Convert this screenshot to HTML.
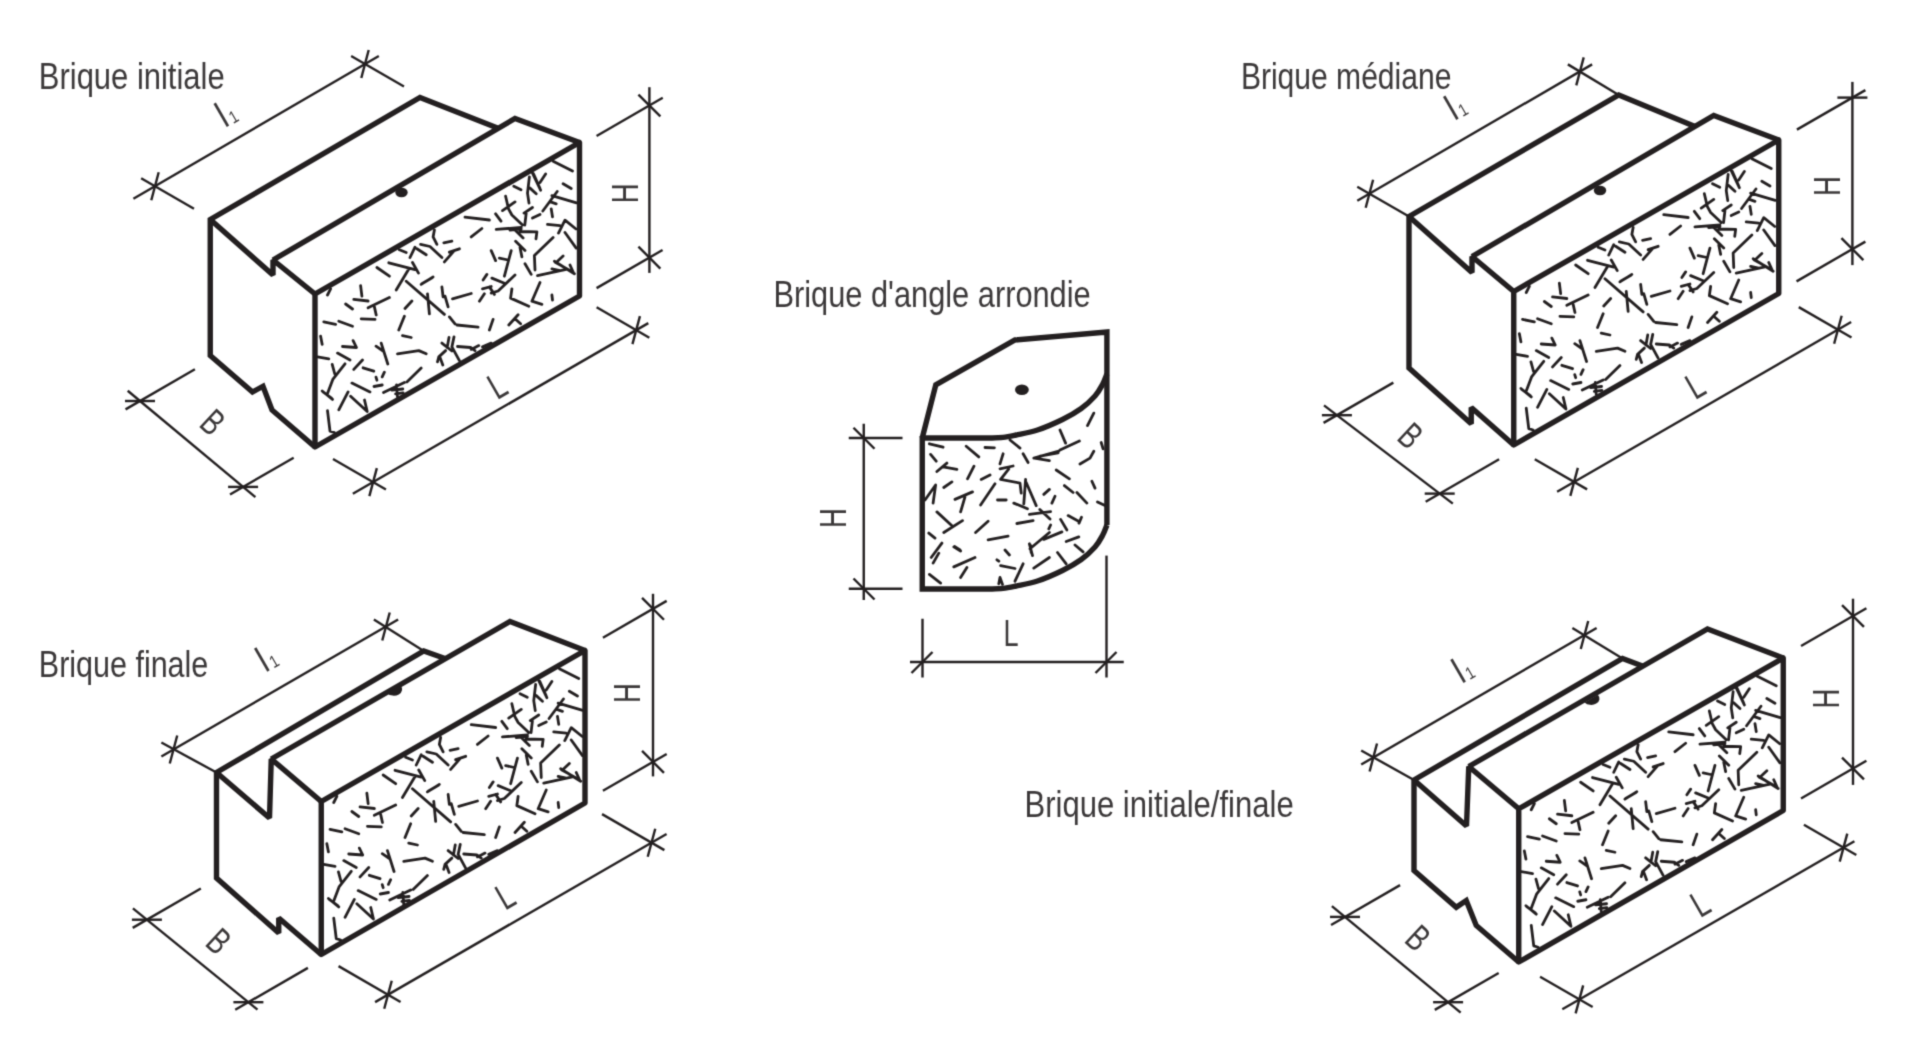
<!DOCTYPE html>
<html lang="fr"><head><meta charset="utf-8"><title>Briques</title>
<style>html,body{margin:0;padding:0;background:#fff;overflow:hidden}svg{display:block}text{font-family:"Liberation Sans",sans-serif}</style>
</head><body>
<svg width="1920" height="1043" viewBox="0 0 1920 1043">
<defs><filter id="soft" x="0" y="0" width="1920" height="1043" filterUnits="userSpaceOnUse" color-interpolation-filters="sRGB"><feConvolveMatrix order="3" kernelMatrix="1 4 1 4 16 4 1 4 1" divisor="36" edgeMode="duplicate" preserveAlpha="true"/></filter></defs><g filter="url(#soft)"><rect width="1920" height="1043" fill="#fff"/>
<defs><path id="spk" d="M150.0 -76.8L174.4 -74.0M156.2 -57.1L166.9 -65.5M119.4 -64.0L118.1 -57.1L121.9 -49.6M128.8 -51.2L136.9 -52.8M105.6 -49.6L115.0 -47.5L126.9 -36.5M129.4 -32.1L138.8 -42.8M134.4 -41.8L144.4 -45.2M84.4 -44.2L91.2 -41.5M95.0 -36.5L100.0 -46.8M101.9 -45.2L111.2 -39.2M73.8 -31.2L100.0 -24.4M97.5 -31.5L103.5 -20.9M61.9 -26.5L74.4 -17.8M81.2 -4.0L93.8 -25.0M106.2 -9.6L118.1 -17.1M106.9 -10.2L117.5 -16.5M91.2 -12.8L129.4 20.4M112.5 -0.2L114.4 19.8M126.9 -7.1L128.1 2.9M130.0 2.2L133.1 12.9M137.5 4.8L156.2 -0.5M45.6 -8.4L46.9 2.2M38.8 5.4L53.1 7.0M53.1 13.8L74.4 3.5M59.4 12.9L61.2 21.0M30.6 10.0L37.5 15.0M90.0 14.5L96.9 7.0M8.8 27.9L20.6 30.4M23.8 27.2L37.5 32.2M46.2 24.8L60.0 25.4M83.8 36.0L89.4 22.2M87.5 41.6L96.2 43.5M134.4 22.9L140.0 29.8M141.9 31.0L163.1 33.2M174.4 36.0L178.1 25.4M164.4 7.2L169.4 -0.2M168.1 -14.0L171.9 -19.6M176.2 -43.4L180.6 -33.4M189.4 -17.8L196.2 -43.4M184.4 -35.9L193.1 -34.0M210.0 -30.2L216.2 -19.6M220.0 -24.0L219.4 -38.4L238.1 -56.5M176.9 -15.9L190.0 -10.5M200.0 -19.0L183.1 -3.0L176.2 -0.9M167.5 -5.2L176.2 -7.5M174.4 -7.1L179.4 0.4M196.9 -5.2L195.6 4.1L213.8 12.2M225.0 -11.5L216.9 7.2L226.9 10.4M193.8 31.0L203.1 20.8M200.0 24.8L205.6 29.8M12.5 1.0L15.6 -5.2M5.6 42.2L7.2 50.4M27.5 52.5L41.5 53.5L38.1 46.6M2.5 62.9L13.8 64.8M22.5 59.1L35.0 66.0M66.2 49.1L72.8 70.0M61.0 52.2L68.1 57.0M82.5 59.8L103.8 56.6L111.2 59.8M142.5 52.5L155.6 53.5L160.0 56.6M134.0 43.5L132.2 53.5M139.0 42.9L136.9 52.9M126.9 49.1L136.9 57.0M136.9 52.9L144.4 66.6M130.6 56.6L123.8 62.9L122.5 67.9M125.0 63.5L127.8 71.0M30.0 69.8L17.8 85.4L12.5 99.5M17.2 70.4L19.8 80.0M7.2 97.0L17.5 105.4M8.0 97.9L16.5 104.1M38.8 75.4L47.5 66.0M48.1 73.8L58.8 77.2M61.0 83.2L61.9 86.2M67.2 82.9L69.4 78.2M59.0 92.5L67.2 91.0M36.9 89.1L55.0 97.9M68.5 98.5L89.4 88.5M76.9 96.2L87.8 95.0M80.6 99.8L88.1 98.8M81.5 91.0L82.5 102.9M91.9 87.9L106.2 74.1M23.8 115.8L33.1 97.9M35.6 102.2L52.2 117.5L49.5 106.0M12.5 116.6L15.0 137.2L19.4 138.5M156.2 55.4L163.8 51.6M167.5 52.9L176.2 49.1M238.1 -132.8L257.5 -123.0M248.1 -110.2L256.2 -105.5M214.4 -117.1L212.5 -100.9L214.0 -90.9M217.5 -120.9L225.6 -103.8M218.5 -120.2L224.8 -105.9M230.6 -120.0L225.0 -111.5M215.0 -105.9L221.2 -100.2M198.8 -107.8L206.0 -104.2M190.6 -97.8L193.5 -85.2L196.9 -79.0L207.5 -69.0M187.5 -83.4L200.0 -92.1M242.2 -102.5L227.8 -83.0M236.9 -98.4L261.5 -91.2M235.6 -92.1L241.2 -90.2M209.0 -80.9L217.5 -86.5M211.2 -80.9L209.8 -69.0M217.5 -75.9L225.0 -79.6M236.2 -85.2L237.5 -77.1M180.6 -80.2L186.0 -72.8M181.2 -64.6L206.2 -66.5M195.0 -63.8L206.2 -65.0M205.0 -62.5L221.9 -62.1L221.0 -55.2M200.0 -64.0L208.1 -55.9M200.6 -52.8L210.0 -43.4M205.0 -46.5L206.9 -37.1M232.5 -69.6L245.0 -68.4M243.5 -60.9L250.0 -73.8L261.0 -65.0M250.0 -61.5L261.2 -45.9M222.5 -18.4L251.2 -24.6M239.4 -32.8L259.4 -20.2M240.2 -31.8L257.5 -22.1M242.5 -32.8L248.1 -38.0M255.0 -29.0L258.5 -21.2M236.9 -25.2L245.0 -23.4M236.9 1.0L237.5 6.0" fill="none" stroke="#231f20" stroke-width="2.80" stroke-linecap="round" stroke-linejoin="round"/></defs>
<use href="#spk" x="315.00" y="294.00"/>
<polyline points="273.00,260.00 515.00,118.50 579.50,142.50" fill="none" stroke="#231f20" stroke-width="5.40" stroke-linejoin="miter" stroke-miterlimit="2.2"/>
<polygon points="315.00,294.00 579.50,142.50 579.50,296.00 315.00,447.00" fill="none" stroke="#231f20" stroke-width="5.40" stroke-linejoin="round" stroke-miterlimit="2.2"/>
<polyline points="210.25,219.50 273.00,275.00 273.00,260.00 315.00,294.00" fill="none" stroke="#231f20" stroke-width="5.40" stroke-linejoin="miter" stroke-miterlimit="2.2"/>
<polyline points="497.50,128.00 420.00,97.50 210.25,219.50 210.25,355.50 252.50,392.00 263.00,386.25 272.00,410.00 315.00,447.00" fill="none" stroke="#231f20" stroke-width="5.40" stroke-linejoin="miter" stroke-miterlimit="2.2"/>
<ellipse cx="401.50" cy="192.50" rx="6.20" ry="4.80" fill="#231f20"/>
<line x1="133.39" y1="198.83" x2="378.83" y2="55.95" stroke="#231f20" stroke-width="2.40"/>
<line x1="141.14" y1="178.25" x2="193.97" y2="208.75" stroke="#231f20" stroke-width="2.40"/>
<line x1="151.30" y1="200.27" x2="158.70" y2="172.23" stroke="#231f20" stroke-width="2.40"/>
<line x1="351.14" y1="56.00" x2="403.97" y2="86.50" stroke="#231f20" stroke-width="2.40"/>
<line x1="361.30" y1="78.02" x2="368.70" y2="49.98" stroke="#231f20" stroke-width="2.40"/>
<line x1="649.40" y1="272.90" x2="649.40" y2="87.20" stroke="#231f20" stroke-width="2.40"/>
<line x1="596.57" y1="288.10" x2="662.56" y2="250.00" stroke="#231f20" stroke-width="2.40"/>
<line x1="660.36" y1="268.56" x2="638.44" y2="246.64" stroke="#231f20" stroke-width="2.40"/>
<line x1="596.57" y1="136.00" x2="662.74" y2="97.80" stroke="#231f20" stroke-width="2.40"/>
<line x1="660.36" y1="116.46" x2="638.44" y2="94.54" stroke="#231f20" stroke-width="2.40"/>
<line x1="127.71" y1="390.76" x2="255.39" y2="497.14" stroke="#231f20" stroke-width="2.40"/>
<line x1="125.54" y1="409.35" x2="194.91" y2="369.30" stroke="#231f20" stroke-width="2.40"/>
<line x1="125.00" y1="401.00" x2="155.00" y2="401.00" stroke="#231f20" stroke-width="2.40"/>
<line x1="230.02" y1="494.45" x2="293.68" y2="457.70" stroke="#231f20" stroke-width="2.40"/>
<line x1="228.10" y1="486.90" x2="258.10" y2="486.90" stroke="#231f20" stroke-width="2.40"/>
<line x1="352.84" y1="493.81" x2="648.32" y2="323.10" stroke="#231f20" stroke-width="2.40"/>
<line x1="333.00" y1="458.95" x2="385.92" y2="489.50" stroke="#231f20" stroke-width="2.40"/>
<line x1="369.35" y1="496.11" x2="376.85" y2="468.09" stroke="#231f20" stroke-width="2.40"/>
<line x1="596.62" y1="307.25" x2="649.36" y2="337.70" stroke="#231f20" stroke-width="2.40"/>
<line x1="632.45" y1="344.11" x2="639.95" y2="316.09" stroke="#231f20" stroke-width="2.40"/>
<use href="#spk" x="1513.75" y="291.50"/>
<polyline points="1472.00,256.50 1713.75,115.50 1778.75,140.00" fill="none" stroke="#231f20" stroke-width="5.40" stroke-linejoin="miter" stroke-miterlimit="2.2"/>
<polygon points="1513.75,291.50 1778.75,140.00 1778.75,293.50 1513.75,445.00" fill="none" stroke="#231f20" stroke-width="5.40" stroke-linejoin="round" stroke-miterlimit="2.2"/>
<polyline points="1409.00,216.50 1472.00,272.50 1472.00,256.50 1513.75,291.50" fill="none" stroke="#231f20" stroke-width="5.40" stroke-linejoin="miter" stroke-miterlimit="2.2"/>
<polyline points="1695.00,126.50 1618.75,95.00 1409.00,216.50 1409.00,368.00 1471.25,423.75 1471.25,407.50 1513.75,445.00" fill="none" stroke="#231f20" stroke-width="5.40" stroke-linejoin="miter" stroke-miterlimit="2.2"/>
<ellipse cx="1600.00" cy="190.50" rx="6.20" ry="4.80" fill="#231f20"/>
<line x1="1357.29" y1="200.78" x2="1592.11" y2="64.37" stroke="#231f20" stroke-width="2.40"/>
<line x1="1357.28" y1="186.75" x2="1409.00" y2="216.50" stroke="#231f20" stroke-width="2.40"/>
<line x1="1567.88" y1="64.40" x2="1618.75" y2="95.00" stroke="#231f20" stroke-width="2.40"/>
<line x1="1365.68" y1="207.77" x2="1373.12" y2="179.73" stroke="#231f20" stroke-width="2.40"/>
<line x1="1576.28" y1="85.42" x2="1583.72" y2="57.38" stroke="#231f20" stroke-width="2.40"/>
<line x1="1852.40" y1="265.10" x2="1852.40" y2="81.90" stroke="#231f20" stroke-width="2.40"/>
<line x1="1796.54" y1="281.35" x2="1865.39" y2="241.60" stroke="#231f20" stroke-width="2.40"/>
<line x1="1863.36" y1="260.06" x2="1841.44" y2="238.14" stroke="#231f20" stroke-width="2.40"/>
<line x1="1796.89" y1="129.65" x2="1865.39" y2="90.10" stroke="#231f20" stroke-width="2.40"/>
<line x1="1837.40" y1="97.60" x2="1867.40" y2="97.60" stroke="#231f20" stroke-width="2.40"/>
<line x1="1324.02" y1="405.38" x2="1452.82" y2="503.61" stroke="#231f20" stroke-width="2.40"/>
<line x1="1323.56" y1="422.90" x2="1393.36" y2="382.60" stroke="#231f20" stroke-width="2.40"/>
<line x1="1321.90" y1="415.20" x2="1351.90" y2="415.20" stroke="#231f20" stroke-width="2.40"/>
<line x1="1425.67" y1="501.70" x2="1499.11" y2="459.30" stroke="#231f20" stroke-width="2.40"/>
<line x1="1424.70" y1="493.60" x2="1454.70" y2="493.60" stroke="#231f20" stroke-width="2.40"/>
<line x1="1557.12" y1="491.69" x2="1851.15" y2="322.05" stroke="#231f20" stroke-width="2.40"/>
<line x1="1534.78" y1="459.20" x2="1587.09" y2="489.40" stroke="#231f20" stroke-width="2.40"/>
<line x1="1570.34" y1="495.90" x2="1577.86" y2="467.90" stroke="#231f20" stroke-width="2.40"/>
<line x1="1798.76" y1="307.10" x2="1851.50" y2="337.55" stroke="#231f20" stroke-width="2.40"/>
<line x1="1834.14" y1="343.70" x2="1841.66" y2="315.70" stroke="#231f20" stroke-width="2.40"/>
<use href="#spk" x="321.25" y="801.50"/>
<polyline points="271.25,759.00 510.00,621.50 585.00,650.50" fill="none" stroke="#231f20" stroke-width="5.40" stroke-linejoin="miter" stroke-miterlimit="2.2"/>
<polygon points="321.25,801.50 585.00,650.50 585.00,803.00 321.25,954.50" fill="none" stroke="#231f20" stroke-width="5.40" stroke-linejoin="round" stroke-miterlimit="2.2"/>
<polyline points="216.50,772.50 269.50,818.00 271.25,759.00 321.25,801.50" fill="none" stroke="#231f20" stroke-width="5.40" stroke-linejoin="miter" stroke-miterlimit="2.2"/>
<polyline points="445.00,658.50 423.75,651.00 216.50,772.50 216.50,878.00 278.75,933.00 278.75,918.00 321.25,954.50" fill="none" stroke="#231f20" stroke-width="5.40" stroke-linejoin="miter" stroke-miterlimit="2.2"/>
<path d="M387.2 693.2 a6.6 5 0 0 0 13.2 -7.6 z" fill="#231f20"/>
<line x1="161.38" y1="756.51" x2="398.12" y2="619.49" stroke="#231f20" stroke-width="2.40"/>
<line x1="161.38" y1="742.50" x2="216.50" y2="772.50" stroke="#231f20" stroke-width="2.40"/>
<line x1="373.88" y1="619.50" x2="423.75" y2="651.00" stroke="#231f20" stroke-width="2.40"/>
<line x1="169.76" y1="763.51" x2="177.24" y2="735.49" stroke="#231f20" stroke-width="2.40"/>
<line x1="382.26" y1="640.51" x2="389.74" y2="612.49" stroke="#231f20" stroke-width="2.40"/>
<line x1="653.00" y1="776.40" x2="653.00" y2="593.80" stroke="#231f20" stroke-width="2.40"/>
<line x1="602.94" y1="790.80" x2="666.68" y2="754.00" stroke="#231f20" stroke-width="2.40"/>
<line x1="663.96" y1="772.86" x2="642.04" y2="750.94" stroke="#231f20" stroke-width="2.40"/>
<line x1="602.94" y1="637.70" x2="666.68" y2="600.90" stroke="#231f20" stroke-width="2.40"/>
<line x1="663.96" y1="619.76" x2="642.04" y2="597.84" stroke="#231f20" stroke-width="2.40"/>
<line x1="132.93" y1="908.35" x2="257.48" y2="1009.58" stroke="#231f20" stroke-width="2.40"/>
<line x1="132.70" y1="927.90" x2="200.85" y2="888.55" stroke="#231f20" stroke-width="2.40"/>
<line x1="131.90" y1="919.70" x2="161.90" y2="919.70" stroke="#231f20" stroke-width="2.40"/>
<line x1="235.24" y1="1009.80" x2="307.90" y2="967.85" stroke="#231f20" stroke-width="2.40"/>
<line x1="233.40" y1="1002.20" x2="263.40" y2="1002.20" stroke="#231f20" stroke-width="2.40"/>
<line x1="375.09" y1="1002.15" x2="666.57" y2="834.01" stroke="#231f20" stroke-width="2.40"/>
<line x1="338.55" y1="966.15" x2="400.56" y2="1001.95" stroke="#231f20" stroke-width="2.40"/>
<line x1="384.24" y1="1008.70" x2="391.76" y2="980.70" stroke="#231f20" stroke-width="2.40"/>
<line x1="602.05" y1="814.15" x2="664.40" y2="850.15" stroke="#231f20" stroke-width="2.40"/>
<line x1="647.74" y1="856.70" x2="655.26" y2="828.70" stroke="#231f20" stroke-width="2.40"/>
<use href="#spk" x="1518.75" y="808.75"/>
<polyline points="1468.75,766.50 1707.50,629.00 1783.25,658.00" fill="none" stroke="#231f20" stroke-width="5.40" stroke-linejoin="miter" stroke-miterlimit="2.2"/>
<polygon points="1518.75,808.75 1783.25,658.00 1783.25,810.50 1518.75,962.00" fill="none" stroke="#231f20" stroke-width="5.40" stroke-linejoin="round" stroke-miterlimit="2.2"/>
<polyline points="1414.00,780.00 1466.50,826.00 1468.75,766.50 1518.75,808.75" fill="none" stroke="#231f20" stroke-width="5.40" stroke-linejoin="miter" stroke-miterlimit="2.2"/>
<polyline points="1643.75,666.50 1622.50,658.50 1414.00,780.00 1414.00,870.50 1456.25,907.25 1466.25,900.50 1476.25,925.50 1518.75,962.00" fill="none" stroke="#231f20" stroke-width="5.40" stroke-linejoin="miter" stroke-miterlimit="2.2"/>
<path d="M1584.6 702.4 a6.6 5 0 0 0 13.2 -7.6 z" fill="#231f20"/>
<line x1="1361.19" y1="764.52" x2="1596.61" y2="627.98" stroke="#231f20" stroke-width="2.40"/>
<line x1="1361.18" y1="750.50" x2="1414.00" y2="780.00" stroke="#231f20" stroke-width="2.40"/>
<line x1="1572.38" y1="628.00" x2="1622.50" y2="658.50" stroke="#231f20" stroke-width="2.40"/>
<line x1="1369.58" y1="771.51" x2="1377.02" y2="743.49" stroke="#231f20" stroke-width="2.40"/>
<line x1="1580.78" y1="649.01" x2="1588.22" y2="620.99" stroke="#231f20" stroke-width="2.40"/>
<line x1="1853.00" y1="784.90" x2="1853.00" y2="598.70" stroke="#231f20" stroke-width="2.40"/>
<line x1="1801.04" y1="798.50" x2="1866.42" y2="760.75" stroke="#231f20" stroke-width="2.40"/>
<line x1="1863.96" y1="779.46" x2="1842.04" y2="757.54" stroke="#231f20" stroke-width="2.40"/>
<line x1="1801.04" y1="646.00" x2="1866.42" y2="608.25" stroke="#231f20" stroke-width="2.40"/>
<line x1="1863.96" y1="626.96" x2="1842.04" y2="605.04" stroke="#231f20" stroke-width="2.40"/>
<line x1="1331.90" y1="906.06" x2="1460.66" y2="1012.59" stroke="#231f20" stroke-width="2.40"/>
<line x1="1331.06" y1="924.95" x2="1400.08" y2="885.10" stroke="#231f20" stroke-width="2.40"/>
<line x1="1330.00" y1="916.90" x2="1360.00" y2="916.90" stroke="#231f20" stroke-width="2.40"/>
<line x1="1434.76" y1="1009.90" x2="1498.68" y2="973.00" stroke="#231f20" stroke-width="2.40"/>
<line x1="1433.10" y1="1002.20" x2="1463.10" y2="1002.20" stroke="#231f20" stroke-width="2.40"/>
<line x1="1562.32" y1="1009.22" x2="1854.42" y2="841.32" stroke="#231f20" stroke-width="2.40"/>
<line x1="1540.08" y1="976.70" x2="1592.65" y2="1007.05" stroke="#231f20" stroke-width="2.40"/>
<line x1="1575.62" y1="1013.40" x2="1583.18" y2="985.40" stroke="#231f20" stroke-width="2.40"/>
<line x1="1803.92" y1="824.75" x2="1856.32" y2="855.00" stroke="#231f20" stroke-width="2.40"/>
<line x1="1839.72" y1="861.60" x2="1847.28" y2="833.60" stroke="#231f20" stroke-width="2.40"/>
<path d="M929.4 443.8L943.1 447.2M966.2 446.2L978.8 456.9M985.0 447.5L994.4 447.8M1010.0 440.0L1020.0 448.1M1023.1 453.8L1028.1 462.5M1060.0 430.0L1065.6 443.1M1087.5 425.6L1093.8 413.1M1060.0 450.0L1079.4 441.0M1033.8 458.1L1058.8 451.2M1040.0 456.2L1058.1 452.8M1034.4 458.1L1049.4 460.6M1101.2 442.5L1103.1 448.8M1080.0 464.0L1090.0 458.1L1093.8 451.2M930.6 454.4L936.2 461.2M936.9 471.5L946.9 463.1M943.1 466.9L956.9 469.4M1003.1 453.8L1000.0 463.8M967.5 478.8L974.0 466.2M981.2 479.4L990.0 475.0M1000.0 468.8L1013.1 466.0M1008.8 468.8L1000.6 479.4L1020.0 483.1L1021.2 493.1M1025.6 479.4L1023.8 503.8M1026.2 482.5L1036.2 505.6M1056.2 470.0L1069.4 478.8M1091.9 481.2L1095.0 488.1M1064.4 485.6L1073.1 492.5M1043.8 494.4L1049.4 489.4M1076.9 492.5L1086.9 503.1M1051.9 503.1L1055.0 496.2M943.8 487.5L951.9 481.9M925.0 500.0L935.6 485.0L933.1 503.1M955.0 499.4L972.5 491.9M965.0 496.9L960.6 511.9M980.6 505.0L995.0 483.8M997.5 500.0L1006.2 500.0M1013.8 503.1L1027.5 508.8M1097.5 501.9L1105.0 505.6M936.9 511.9L952.5 526.2M943.8 532.5L962.5 520.6M975.6 532.5L988.1 521.2M1016.9 523.5L1033.1 520.6M1029.4 514.4L1050.6 511.6M1039.8 509.4L1050.0 519.0M1048.8 528.8L1050.6 525.0M1060.6 519.4L1066.9 530.0M1068.1 515.6L1079.0 521.5M1081.5 517.2L1079.0 523.1M928.8 533.1L935.0 538.1M988.1 539.8L1008.1 536.2M1030.0 548.8L1049.4 532.5M1043.8 539.4L1061.9 531.9M1029.4 543.8L1032.5 555.6M1030.2 544.8L1031.2 552.5M1066.2 541.5L1078.8 536.9M1075.0 545.0L1083.1 551.9M931.2 557.5L941.9 543.1M933.1 563.1L938.8 553.1M953.8 546.9L960.6 551.0M954.5 546.5L960.0 550.0M1005.0 550.0L1009.4 555.0M953.8 566.9L975.0 557.5M960.6 577.5L966.9 567.5M996.9 559.8L998.8 561.2M1000.6 565.6L1015.0 568.5M1015.0 581.2L1023.1 563.8M1033.8 568.1L1049.4 557.5M1057.5 552.5L1066.2 563.8M929.4 574.4L940.6 583.1M998.8 583.8L1000.0 577.5L1002.5 584.4" fill="none" stroke="#231f20" stroke-width="2.80" stroke-linecap="round" stroke-linejoin="round"/>
<path d="M922.25 438.00 L935.8 384.8 L1015 340 L1106.90 332 V525.00" fill="none" stroke="#231f20" stroke-width="5.40" stroke-linejoin="miter"/>
<path d="M922.25 438.00 H990 L990.00 438.00C994.33 437.90 998.67 437.90 1003.00 437.40C1007.33 436.90 1010.25 436.23 1016.00 435.00C1021.75 433.77 1029.75 432.58 1037.50 430.00C1045.25 427.42 1055.21 423.08 1062.50 419.50C1069.79 415.92 1075.83 412.42 1081.25 408.50C1086.67 404.58 1091.46 400.00 1095.00 396.00C1098.54 392.00 1100.52 388.17 1102.50 384.50C1104.48 380.83 1106.17 375.75 1106.90 374.00" fill="none" stroke="#231f20" stroke-width="5.40" stroke-linejoin="round"/>
<path d="M922.25 436.00 V589.00 H990 L990.00 589.00C994.33 588.90 998.67 588.90 1003.00 588.40C1007.33 587.90 1010.25 587.23 1016.00 586.00C1021.75 584.77 1029.75 583.58 1037.50 581.00C1045.25 578.42 1055.21 574.08 1062.50 570.50C1069.79 566.92 1075.83 563.42 1081.25 559.50C1086.67 555.58 1091.46 551.00 1095.00 547.00C1098.54 543.00 1100.52 539.17 1102.50 535.50C1104.48 531.83 1106.17 526.75 1106.90 525.00" fill="none" stroke="#231f20" stroke-width="5.40" stroke-linejoin="miter"/>
<ellipse cx="1021.90" cy="389.75" rx="6.90" ry="5.20" fill="#231f20"/>
<line x1="863.75" y1="423.75" x2="863.75" y2="600.00" stroke="#231f20" stroke-width="2.40"/>
<line x1="848.75" y1="438.00" x2="902.50" y2="438.00" stroke="#231f20" stroke-width="2.40"/>
<line x1="848.75" y1="588.75" x2="902.50" y2="588.75" stroke="#231f20" stroke-width="2.40"/>
<line x1="853.50" y1="427.75" x2="874.50" y2="448.75" stroke="#231f20" stroke-width="2.40"/>
<line x1="853.50" y1="578.50" x2="874.50" y2="599.50" stroke="#231f20" stroke-width="2.40"/>
<line x1="910.00" y1="662.00" x2="1123.75" y2="662.00" stroke="#231f20" stroke-width="2.40"/>
<line x1="922.50" y1="618.75" x2="922.50" y2="677.50" stroke="#231f20" stroke-width="2.40"/>
<line x1="1106.50" y1="555.60" x2="1106.50" y2="677.50" stroke="#231f20" stroke-width="2.40"/>
<line x1="911.50" y1="673.00" x2="932.50" y2="652.00" stroke="#231f20" stroke-width="2.40"/>
<line x1="1095.50" y1="673.00" x2="1116.50" y2="652.00" stroke="#231f20" stroke-width="2.40"/>
<text transform="translate(38.80,89.40) rotate(0.00) scale(0.844,1)" font-size="36.70" text-anchor="start" fill="#3b3839">Brique initiale</text>
<text transform="translate(1240.90,89.40) rotate(0.00) scale(0.819,1)" font-size="36.70" text-anchor="start" fill="#3b3839">Brique médiane</text>
<text transform="translate(38.80,676.60) rotate(0.00) scale(0.831,1)" font-size="36.70" text-anchor="start" fill="#3b3839">Brique finale</text>
<text transform="translate(1024.50,816.70) rotate(0.00) scale(0.846,1)" font-size="36.70" text-anchor="start" fill="#3b3839">Brique initiale/finale</text>
<text transform="translate(773.40,306.70) rotate(0.00) scale(0.839,1)" font-size="36.70" text-anchor="start" fill="#3b3839">Brique d'angle arrondie</text>
<text transform="translate(221.50,115.00) rotate(-30.00) scale(0.840,1)" font-size="36.70" text-anchor="middle" fill="#3b3839" y="13.14">l</text>
<text transform="translate(233.51,116.61) rotate(-30.00) scale(0.800,1)" font-size="17.50" text-anchor="middle" fill="#3b3839" y="6.26">1</text>
<text transform="translate(624.60,193.40) rotate(-90.00) scale(0.750,1)" font-size="36.70" text-anchor="middle" fill="#3b3839" y="13.14">H</text>
<text transform="translate(213.10,421.90) rotate(43.00) scale(0.720,1)" font-size="36.70" text-anchor="middle" fill="#3b3839" y="13.14">B</text>
<text transform="translate(497.00,385.00) rotate(-30.00) scale(0.740,1)" font-size="36.70" text-anchor="middle" fill="#3b3839" y="13.14">L</text>
<text transform="translate(1451.00,108.00) rotate(-30.00) scale(0.840,1)" font-size="36.70" text-anchor="middle" fill="#3b3839" y="13.14">l</text>
<text transform="translate(1463.01,109.61) rotate(-30.00) scale(0.800,1)" font-size="17.50" text-anchor="middle" fill="#3b3839" y="6.26">1</text>
<text transform="translate(1827.00,186.00) rotate(-90.00) scale(0.750,1)" font-size="36.70" text-anchor="middle" fill="#3b3839" y="13.14">H</text>
<text transform="translate(1410.80,435.50) rotate(43.00) scale(0.720,1)" font-size="36.70" text-anchor="middle" fill="#3b3839" y="13.14">B</text>
<text transform="translate(1695.00,385.00) rotate(-30.00) scale(0.740,1)" font-size="36.70" text-anchor="middle" fill="#3b3839" y="13.14">L</text>
<text transform="translate(262.00,659.60) rotate(-30.00) scale(0.840,1)" font-size="36.70" text-anchor="middle" fill="#3b3839" y="13.14">l</text>
<text transform="translate(274.01,661.21) rotate(-30.00) scale(0.800,1)" font-size="17.50" text-anchor="middle" fill="#3b3839" y="6.26">1</text>
<text transform="translate(627.00,693.10) rotate(-90.00) scale(0.750,1)" font-size="36.70" text-anchor="middle" fill="#3b3839" y="13.14">H</text>
<text transform="translate(219.20,940.80) rotate(43.00) scale(0.720,1)" font-size="36.70" text-anchor="middle" fill="#3b3839" y="13.14">B</text>
<text transform="translate(505.00,895.50) rotate(-30.00) scale(0.740,1)" font-size="36.70" text-anchor="middle" fill="#3b3839" y="13.14">L</text>
<text transform="translate(1458.10,671.00) rotate(-30.00) scale(0.840,1)" font-size="36.70" text-anchor="middle" fill="#3b3839" y="13.14">l</text>
<text transform="translate(1470.11,672.61) rotate(-30.00) scale(0.800,1)" font-size="17.50" text-anchor="middle" fill="#3b3839" y="6.26">1</text>
<text transform="translate(1826.20,698.60) rotate(-90.00) scale(0.750,1)" font-size="36.70" text-anchor="middle" fill="#3b3839" y="13.14">H</text>
<text transform="translate(1418.40,937.70) rotate(43.00) scale(0.720,1)" font-size="36.70" text-anchor="middle" fill="#3b3839" y="13.14">B</text>
<text transform="translate(1700.00,903.00) rotate(-30.00) scale(0.740,1)" font-size="36.70" text-anchor="middle" fill="#3b3839" y="13.14">L</text>
<text transform="translate(833.00,518.00) rotate(-90.00) scale(0.750,1)" font-size="36.70" text-anchor="middle" fill="#3b3839" y="13.14">H</text>
<text transform="translate(1011.00,633.00) rotate(0.00) scale(0.740,1)" font-size="36.70" text-anchor="middle" fill="#3b3839" y="13.14">L</text>
</g>
</svg></body></html>
